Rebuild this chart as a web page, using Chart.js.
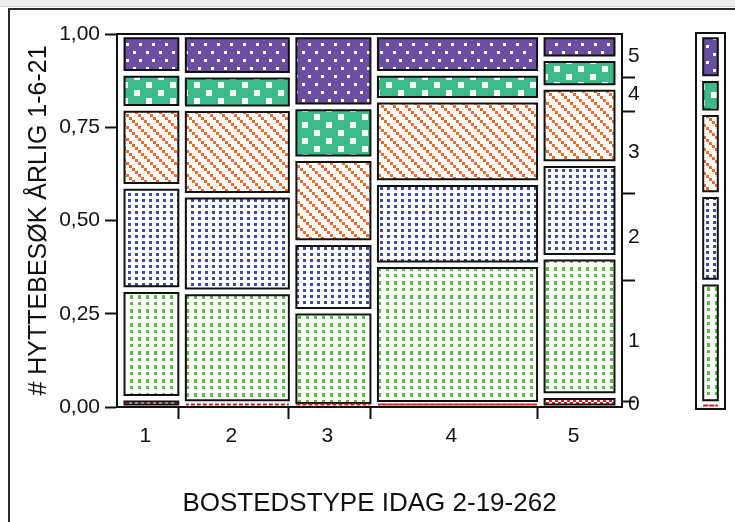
<!DOCTYPE html>
<html>
<head>
<meta charset="utf-8">
<script src="https://cdn.jsdelivr.net/npm/chart.js@4"></script>
<style>
  html, body { margin: 0; padding: 0; background: #fff; overflow: hidden; }
  body { width: 735px; height: 522px; position: relative; }
  #topbar { position: absolute; left: 0; top: 0; width: 735px; height: 6px; background: #ececec; border-bottom: 1px solid #d4d4d4; }
  #panel { position: absolute; left: 8px; top: 8px; width: 740px; height: 530px; border-left: 2px solid #2a2a2a; border-top: 2px solid #2a2a2a; }
  #main { position: absolute; left: 0; top: 0; }
  #side { position: absolute; left: 695px; top: 32px; width: 27px; height: 374px; border: 2px solid #111; }
  #side canvas { display: block; }
</style>
</head>
<body>
<div id="topbar"></div>
<div id="panel"></div>
<canvas id="main" width="735" height="522"></canvas>
<div id="side"><canvas id="marg" width="27" height="374"></canvas></div>
<script>
// BOSTEDSTYPE columns and their share of all answers
const columns = ['1', '2', '3', '4', '5'];
const colShare = [0.117, 0.224, 0.161, 0.346, 0.152];

// # HYTTEBESØK levels, bottom to top
const levels = ['0', '1', '2', '3', '4', '5'];

// share of each level inside each column (bottom to top)
const share1 = [0.026, 0.291, 0.277, 0.209, 0.094, 0.103];
const share2 = [0.012, 0.299, 0.259, 0.232, 0.090, 0.108];
const share3 = [0.004, 0.255, 0.184, 0.225, 0.139, 0.193];
const share4 = [0.010, 0.374, 0.220, 0.221, 0.072, 0.103];
const share5 = [0.033, 0.371, 0.251, 0.204, 0.077, 0.064];
const colShares = [share1, share2, share3, share4, share5];

// all columns together (right axis and the side bar)
const marginShare = [0.014, 0.325, 0.234, 0.219, 0.091, 0.117];

const yTicks = [0, 0.25, 0.5, 0.75, 1];
const yTickLabels = ['0,00', '0,25', '0,50', '0,75', '1,00'];

// look
const gapX = 0.0149;        // space between columns, in axis units
const padBottom = 0.0064;   // space under each tile
const padTop = 0.0113;      // space over each tile
const labelShift = 0.012;
const ink = '#111';

Chart.defaults.font.family = '"Liberation Sans", Arial, sans-serif';
Chart.defaults.color = ink;

function makePattern(w, h, bg, fg, cells) {
  const c = document.createElement('canvas');
  c.width = w; c.height = h;
  const g = c.getContext('2d');
  g.fillStyle = bg;
  g.fillRect(0, 0, w, h);
  g.fillStyle = fg;
  cells.forEach(([x, y, cw, ch]) => g.fillRect(x, y, cw, ch));
  return g.createPattern(c, 'repeat');
}

const patterns = [
  makePattern(6, 6, '#ffffff', '#d92323', [[0, 0, 3, 3], [3, 3, 3, 3]]),
  makePattern(8, 14, '#ffffff', '#5cba4b', [[2, 1, 3, 4], [2, 8, 3, 3]]),
  makePattern(7, 6, '#ffffff', '#3d4c9f', [[2, 1, 3, 3]]),
  makePattern(12, 12, '#ffffff', '#f26a2a', [[0, 0, 3, 3], [3, 3, 3, 3], [6, 6, 3, 3], [9, 9, 3, 3]]),
  makePattern(24, 16, '#3dba89', '#ffffff', [[2, 2, 6, 6], [14, 10, 6, 6]]),
  makePattern(13, 16, '#6a4fa0', '#ffffff', [[3, 3, 3, 3], [9, 11, 3, 3]])
];

function tile(x0, x1, lo, hi, k) {
  const y0 = lo + padBottom;
  let y1 = hi - padTop;
  const thin = y1 - y0 < 0.002;
  if (thin) y1 = y0;
  return {
    data: [
      { x: x0, y: y0 }, { x: x0, y: y1 }, { x: x1, y: y1 },
      { x: x1, y: y0 }, { x: x0, y: y0 }, { x: x0, y: y1 }
    ],
    xAxisID: 'x',
    yAxisID: 'y',
    fill: thin ? false : 'shape',
    backgroundColor: patterns[k],
    borderColor: thin ? '#c42020' : ink,
    borderDash: thin ? [3, 3] : [],
    borderWidth: 2,
    borderJoinStyle: 'miter',
    pointRadius: 0,
    tension: 0
  };
}

function stackTiles(x0, x1, shares) {
  const out = [];
  let lo = 0;
  shares.forEach((s, k) => {
    out.push(tile(x0, x1, lo, lo + s, k));
    lo += s;
  });
  return out;
}

// mosaic tiles
const usable = 1 - gapX * (columns.length + 1);
const colEdges = [];
let cursor = 0;
colShare.forEach((s) => {
  const x0 = cursor + gapX;
  const x1 = x0 + s * usable;
  colEdges.push([x0, x1]);
  cursor = x1;
});

const mainSets = [];
colEdges.forEach(([x0, x1], i) => {
  stackTiles(x0, x1, colShares[i]).forEach((d) => mainSets.push(d));
});

// bottom axis: labels per column, tick marks between columns
const xTickItems = [];
colEdges.forEach(([x0, x1], i) => {
  xTickItems.push({ value: (x0 + x1) / 2 - labelShift, name: columns[i] });
  if (i < columns.length - 1) xTickItems.push({ value: x1, sep: true });
});
xTickItems.sort((a, b) => a.value - b.value);

// right axis: level labels in the middle of each marginal band
const rightTicks = [];
let acc = 0;
marginShare.forEach((s, k) => {
  rightTicks.push({ value: acc + s / 2, name: levels[k] });
  acc += s;
  if (k < marginShare.length - 1) rightTicks.push({ value: acc, sep: true });
});
rightTicks.sort((a, b) => a.value - b.value);

const tickMark = (c) => (c.tick && c.tick.sep ? ink : 'rgba(0,0,0,0)');

new Chart(document.getElementById('main'), {
  type: 'line',
  data: { datasets: mainSets },
  options: {
    responsive: false,
    animation: false,
    layout: { padding: 0 },
    plugins: { legend: { display: false }, tooltip: { enabled: false } },
    scales: {
      x: {
        type: 'linear', position: 'bottom', min: 0, max: 1,
        afterBuildTicks: (s) => { s.ticks = xTickItems.map((t) => ({ ...t })); },
        afterFit: (s) => { s.height = 115; },
        ticks: {
          autoSkip: false, maxRotation: 0, padding: 5, font: { size: 21 },
          callback: (v, i, t) => t[i].name || ''
        },
        grid: { drawOnChartArea: false, tickLength: 12, tickWidth: 2, tickColor: tickMark },
        border: { display: true, color: ink, width: 2 },
        title: {
          display: true, text: 'BOSTEDSTYPE IDAG 2-19-262',
          font: { size: 26 }, padding: { top: 0, bottom: 3 }
        }
      },
      xTop: {
        type: 'linear', position: 'top', min: 0, max: 1,
        afterFit: (s) => { s.height = 34; },
        ticks: { display: false },
        grid: { display: false },
        border: { display: true, color: ink, width: 2 }
      },
      y: {
        type: 'linear', position: 'left', min: 0, max: 1,
        afterBuildTicks: (s) => { s.ticks = yTicks.map((v) => ({ value: v })); },
        afterFit: (s) => { s.width = 117; },
        ticks: {
          autoSkip: false, padding: 5, font: { size: 21 },
          callback: (v, i) => yTickLabels[i]
        },
        grid: { drawOnChartArea: false, tickLength: 12, tickWidth: 2, tickColor: ink },
        border: { display: true, color: ink, width: 2 },
        title: {
          display: true, text: '# HYTTEBESØK ÅRLIG 1-6-21',
          font: { size: 25 }, padding: { top: 24, bottom: 0 }
        }
      },
      yR: {
        type: 'linear', position: 'right', min: 0, max: 1,
        afterBuildTicks: (s) => { s.ticks = rightTicks.map((t) => ({ ...t })); },
        afterFit: (s) => { s.width = 113; },
        ticks: {
          autoSkip: false, padding: -7, font: { size: 21 },
          callback: (v, i, t) => t[i].name || ''
        },
        grid: { drawOnChartArea: false, tickLength: 13, tickWidth: 2, tickColor: tickMark },
        border: { display: true, color: ink, width: 2 }
      }
    }
  }
});

// side bar with the overall distribution
new Chart(document.getElementById('marg'), {
  type: 'line',
  data: { datasets: stackTiles(0.23, 0.77, marginShare) },
  options: {
    responsive: false,
    animation: false,
    layout: { padding: 0 },
    plugins: { legend: { display: false }, tooltip: { enabled: false } },
    scales: {
      x: { type: 'linear', display: false, min: 0, max: 1 },
      y: { type: 'linear', display: false, min: 0, max: 1 }
    }
  }
});
</script>
</body>
</html>
